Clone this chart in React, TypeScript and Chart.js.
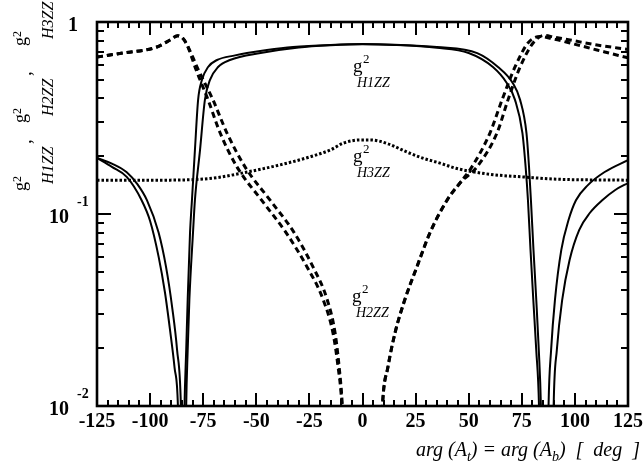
import React, { useEffect, useRef } from 'react';
import { Chart, registerables } from 'chart.js';

Chart.register(...registerables);

// ---- data (x = arg(A_t) in deg, y = coupling squared) ----
const xTickValues = [-125, -100, -75, -50, -25, 0, 25, 50, 75, 100, 125];
const yDecadeValues = [0.01, 0.1, 1];
const yTickBases = ['10', '10', '1'];
const yTickExps = ['-2', '-1', ''];

const h1ZZOuter: [number, number][] = [
  [-125, 0.196], [-118, 0.176], [-111, 0.156], [-104, 0.118], [-100, 0.092], [-96, 0.06],
  [-93, 0.039], [-90.5, 0.0243], [-88.5, 0.0159], [-86.9, 0.01], [-86.2, 0.004], [-85, 0.002],
  [-84.3, 0.004], [-83.8, 0.01], [-83.0, 0.0196], [-82.3, 0.036], [-81.2, 0.08], [-80.3, 0.118],
  [-78.9, 0.215], [-77.4, 0.393], [-75.6, 0.499], [-72.7, 0.583], [-68.5, 0.634], [-60, 0.67],
  [-54.4, 0.689], [-45, 0.715], [-32.7, 0.741], [-15, 0.76], [0, 0.768], [15, 0.762], [35, 0.741],
  [54, 0.689], [63.8, 0.583], [70.8, 0.48], [74.2, 0.393], [77.2, 0.264], [78.4, 0.176],
  [79.3, 0.118], [80.5, 0.065], [81.8, 0.036], [83, 0.0196], [84, 0.01], [84.6, 0.004], [86, 0.002],
  [87.1, 0.004], [87.6, 0.0101], [88.8, 0.0196], [90.6, 0.0356], [93.6, 0.065], [97, 0.093],
  [100.5, 0.118], [106, 0.141], [114, 0.1655], [125, 0.191],
];

const h1ZZInner: [number, number][] = [
  [-125, 0.196], [-118, 0.183], [-111, 0.165], [-106, 0.143], [-101.5, 0.118], [-96, 0.08],
  [-92.5, 0.053], [-89.5, 0.032], [-87.3, 0.0196], [-85.5, 0.01], [-84.9, 0.004], [-84, 0.002],
  [-83.4, 0.004], [-83, 0.01], [-82.3, 0.0196], [-81.5, 0.036], [-79.8, 0.08], [-78.9, 0.118],
  [-76.5, 0.215], [-74.2, 0.393], [-71.8, 0.499], [-68, 0.583], [-62.4, 0.634], [-48, 0.689],
  [-30, 0.736], [-15, 0.756], [0, 0.766], [15, 0.76], [35, 0.735], [50, 0.69], [61.4, 0.583],
  [68, 0.48], [71.8, 0.393], [75.3, 0.264], [76.8, 0.176], [77.9, 0.118], [79.1, 0.065],
  [80.4, 0.036], [81.8, 0.0196], [83.1, 0.01], [83.7, 0.004], [85.5, 0.002], [88.8, 0.002],
  [89.5, 0.004], [90, 0.0101], [91.5, 0.0196], [94, 0.0356], [97.5, 0.0576], [102, 0.0825],
  [107, 0.1012], [113, 0.1183], [119, 0.1334], [125, 0.145],
];

const h2ZZOuter: [number, number][] = [
  [-125, 0.657], [-112.7, 0.69], [-96.8, 0.741], [-90.6, 0.806], [-87, 0.848], [-84.5, 0.82],
  [-82.6, 0.76], [-80.5, 0.66], [-78.5, 0.57], [-76.5, 0.5], [-72.7, 0.393], [-67, 0.264],
  [-59.1, 0.176], [-47.5, 0.118], [-36, 0.08], [-26.1, 0.053], [-18.6, 0.036], [-13.9, 0.024],
  [-11.5, 0.016], [-9.8, 0.0105], [-8.5, 0.005], [-5, 0.002], [0, 0.001], [5, 0.002],
  [8.3, 0.005], [9.5, 0.0105], [12, 0.016], [15.3, 0.024], [20, 0.036], [25.6, 0.053],
  [31.8, 0.08], [39.8, 0.118], [45.9, 0.145], [53.9, 0.176], [63.3, 0.264], [68.5, 0.393],
  [74.2, 0.583], [80.3, 0.777], [85.5, 0.852], [90, 0.835], [97.7, 0.806], [110.4, 0.759],
  [125, 0.72],
];

const h2ZZInner: [number, number][] = [
  [-125, 0.657], [-112.7, 0.69], [-96.8, 0.741], [-90.6, 0.806], [-87, 0.848], [-84.5, 0.82],
  [-82.6, 0.76], [-80, 0.66], [-77.5, 0.57], [-75, 0.5], [-70.4, 0.393], [-63.8, 0.264],
  [-55.3, 0.176], [-43.5, 0.118], [-32.2, 0.08], [-23.3, 0.053], [-16.7, 0.036], [-12.9, 0.024],
  [-11, 0.016], [-9.6, 0.0105], [-8.3, 0.005], [-5, 0.002], [0, 0.001], [5, 0.002],
  [8.3, 0.005], [9.5, 0.0105], [12, 0.016], [15.3, 0.024], [20, 0.036], [25.6, 0.053],
  [31.8, 0.08], [39.8, 0.118], [45.9, 0.145], [51.5, 0.176], [60, 0.264], [65.7, 0.393],
  [71.8, 0.583], [77.9, 0.777], [83.5, 0.84], [90, 0.815], [97.7, 0.777], [110.4, 0.715],
  [125, 0.65],
];

const h3ZZ: [number, number][] = [
  [-125, 0.15], [-100, 0.15], [-80, 0.151], [-68, 0.155], [-56, 0.164], [-40, 0.179],
  [-25, 0.198], [-15, 0.216], [-9, 0.234], [-1, 0.243], [4, 0.243], [12, 0.232], [21, 0.21],
  [28, 0.196], [36.5, 0.184], [44, 0.173], [52, 0.166], [62, 0.16], [75.6, 0.156], [90, 0.152],
  [125, 0.15],
];

const SERIF = '"Liberation Serif", "DejaVu Serif", serif';

function drawCoupling(ctx: CanvasRenderingContext2D, x: number, y: number, sub: string) {
  ctx.textAlign = 'left';
  ctx.textBaseline = 'alphabetic';
  ctx.font = `19px ${SERIF}`;
  ctx.fillText('g', x, y);
  ctx.font = `13px ${SERIF}`;
  ctx.fillText('2', x + 10, y - 9);
  ctx.font = `italic 14px ${SERIF}`;
  ctx.fillText(sub, x + 4, y + 15);
}

const framePlugin = {
  id: 'framePlugin',
  afterDraw(chart: any) {
    const { ctx, chartArea: a, scales } = chart;
    const xs = scales.x;
    const ys = scales.y;
    ctx.save();
    ctx.strokeStyle = '#000';
    ctx.fillStyle = '#000';
    ctx.lineCap = 'butt';
    const seg = (x1: number, y1: number, x2: number, y2: number) => {
      ctx.beginPath();
      ctx.moveTo(x1, y1);
      ctx.lineTo(x2, y2);
      ctx.stroke();
    };
    // x ticks (minor every 5)
    ctx.lineWidth = 2;
    for (let v = xTickValues[0]; v <= xTickValues[xTickValues.length - 1]; v += 5) {
      const px = Math.round(xs.getPixelForValue(v));
      const major = xTickValues.includes(v);
      const len = major ? 13 : 6;
      seg(px, a.bottom, px, a.bottom - len);
      seg(px, a.top, px, a.top + len);
    }
    // y ticks
    for (let d = 0; d < yDecadeValues.length - 1; d++) {
      for (let m = 1; m <= 9; m++) {
        const v = yDecadeValues[d] * m;
        const py = Math.round(ys.getPixelForValue(v));
        const len = m === 1 ? 14 : 7;
        seg(a.left, py, a.left + len, py);
        seg(a.right, py, a.right - len, py);
      }
    }
    // frame
    ctx.lineWidth = 2.6;
    ctx.strokeRect(a.left, a.top, a.right - a.left, a.bottom - a.top);

    // x tick labels
    ctx.font = `bold 20px ${SERIF}`;
    ctx.textAlign = 'center';
    ctx.textBaseline = 'alphabetic';
    xTickValues.forEach((v) => {
      ctx.fillText(String(v), xs.getPixelForValue(v), 427);
    });

    // y tick labels
    yDecadeValues.forEach((v, i) => {
      const py = ys.getPixelForValue(v);
      ctx.font = `bold 20px ${SERIF}`;
      ctx.textAlign = 'right';
      if (yTickExps[i]) {
        ctx.fillText(yTickBases[i], 69, py + 8.5);
        ctx.font = `bold 14px ${SERIF}`;
        ctx.textAlign = 'left';
        ctx.fillText(yTickExps[i], 77, py - 8.5);
      } else {
        ctx.fillText(yTickBases[i], 78, py + 8.5);
      }
    });

    // x axis title
    ctx.textAlign = 'left';
    const parts: [string, boolean][] = [
      ['arg (A', false], ['t', true], [') = arg (A', false], ['b', true], [')  [  deg  ]', false],
    ];
    const mainFont = `italic 20px ${SERIF}`;
    const subFont = `italic 14px ${SERIF}`;
    let total = 0;
    parts.forEach(([t, s]) => {
      ctx.font = s ? subFont : mainFont;
      total += ctx.measureText(t).width;
    });
    let cx = 640 - total;
    parts.forEach(([t, s]) => {
      ctx.font = s ? subFont : mainFont;
      ctx.fillText(t, cx, s ? 461 : 456);
      cx += ctx.measureText(t).width;
    });

    // curve labels
    drawCoupling(ctx, 353, 72, 'H1ZZ');
    drawCoupling(ctx, 353, 162, 'H3ZZ');
    drawCoupling(ctx, 352, 302, 'H2ZZ');

    // y axis title (rotated)
    ctx.save();
    ctx.translate(26, 191);
    ctx.rotate(-Math.PI / 2);
    const subs = ['H1ZZ', 'H2ZZ', 'H3ZZ'];
    const starts = [0, 68, 145];
    subs.forEach((s, i) => {
      const u = starts[i];
      ctx.textAlign = 'left';
      ctx.font = `18px ${SERIF}`;
      ctx.fillText('g', u, 0);
      ctx.font = `12px ${SERIF}`;
      ctx.fillText('2', u + 9, -5);
      ctx.font = `italic 16px ${SERIF}`;
      ctx.fillText(s, u + 7, 27);
      const w = ctx.measureText(s).width;
      if (i < subs.length - 1) {
        ctx.font = `18px ${SERIF}`;
        ctx.fillText('\u2019', u + 7 + w + 2, 16);
      }
    });
    ctx.restore();

    ctx.restore();
  },
};

function toPts(arr: [number, number][]) {
  return arr.map(([x, y]) => ({ x, y }));
}

export default function App() {
  const ref = useRef<HTMLCanvasElement | null>(null);
  useEffect(() => {
    if (!ref.current) return;
    const common = {
      borderColor: '#000',
      pointRadius: 0,
      fill: false,
      cubicInterpolationMode: 'monotone' as const,
      capBezierPoints: false,
    };
    const chart = new Chart(ref.current, {
      type: 'line',
      data: {
        datasets: [
          { ...common, data: toPts(h1ZZOuter), borderWidth: 2 },
          { ...common, data: toPts(h1ZZInner), borderWidth: 2 },
          { ...common, data: toPts(h2ZZOuter), borderWidth: 3, borderDash: [6, 4] },
          { ...common, data: toPts(h2ZZInner), borderWidth: 3, borderDash: [6, 4] },
          { ...common, data: toPts(h3ZZ), borderWidth: 3, borderDash: [2.5, 2] },
        ] as any,
      },
      options: {
        responsive: false,
        animation: false,
        layout: { padding: { left: 97, right: 16, top: 22, bottom: 63 } },
        plugins: { legend: { display: false }, tooltip: { enabled: false } },
        scales: {
          x: { type: 'linear', min: -125, max: 125, display: false },
          y: { type: 'logarithmic', min: 0.01, max: 1, display: false },
        },
      },
      plugins: [framePlugin],
    });
    return () => chart.destroy();
  }, []);
  return (
    <div style={{ position: 'fixed', left: 0, top: 0, width: 644, height: 469, background: '#fff' }}>
      <canvas ref={ref} width={644} height={469} style={{ display: 'block' }} />
    </div>
  );
}
